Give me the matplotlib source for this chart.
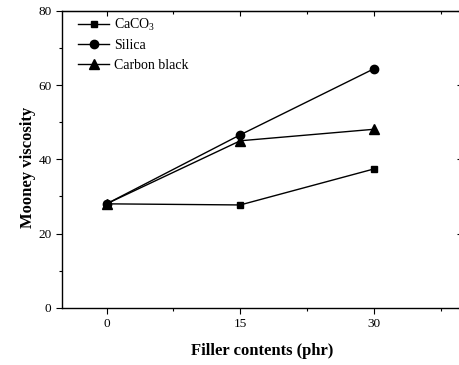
import numpy as np
import matplotlib
matplotlib.use('Agg')
import matplotlib.pyplot as plt
from matplotlib.ticker import MultipleLocator

plt.rcParams['font.family'] = ['Liberation Serif', 'DejaVu Serif']
plt.rcParams['mathtext.fontset'] = 'stix'
plt.rcParams['mathtext.default'] = 'regular'

# Data
filler = [0, 15, 30]
caco3 = [28.0, 27.7, 37.4]
silica = [28.0, 46.6, 64.4]
carbon_black = [28.0, 45.0, 48.1]

fig = plt.figure(figsize=(4.59, 3.65), dpi=100)
ax = fig.add_axes([0.1351, 0.157, 0.8736, 0.813])

ax.plot(filler, caco3, color='black', lw=1.0, marker='s', ms=5, label='CaCO$_3$')
ax.plot(filler, silica, color='black', lw=1.0, marker='o', ms=6, label='Silica')
ax.plot(filler, carbon_black, color='black', lw=1.0, marker='^', ms=6.5, label='Carbon black')

ax.set_xlim(-5, 40)
ax.set_ylim(0, 80)
ax.xaxis.set_major_locator(MultipleLocator(15))
ax.xaxis.set_minor_locator(MultipleLocator(7.5))
ax.yaxis.set_major_locator(MultipleLocator(20))
ax.yaxis.set_minor_locator(MultipleLocator(10))

ax.tick_params(which='both', direction='out', top=False, right=False, labelsize=9.5, width=0.8)
ax.tick_params(which='major', length=4)
ax.tick_params(which='minor', length=2.5)

# mirrored ticks pointing inward on top and right
ax_t = ax.secondary_xaxis('top')
ax_t.xaxis.set_major_locator(MultipleLocator(15))
ax_t.xaxis.set_minor_locator(MultipleLocator(7.5))
ax_t.tick_params(which='both', direction='in', labeltop=False, width=0.8)
ax_t.tick_params(which='major', length=3.5)
ax_t.tick_params(which='minor', length=2.5)
ax_r = ax.secondary_yaxis('right')
ax_r.yaxis.set_major_locator(MultipleLocator(20))
ax_r.yaxis.set_minor_locator(MultipleLocator(10))
ax_r.tick_params(which='both', direction='in', labelright=False, width=0.8)
ax_r.tick_params(which='major', length=4)
ax_r.tick_params(which='minor', length=2.5)

for s in ax.spines.values():
    s.set_linewidth(1.0)

ax.set_xlabel('Filler contents (phr)', fontsize=12, fontweight='bold', labelpad=9.5)
ax.set_ylabel('Mooney viscosity', fontsize=12, fontweight='bold')
ax.yaxis.set_label_coords(-0.066, 0.474)

ax.legend(loc='upper left', frameon=False, fontsize=10, handlelength=2.2,
          handletextpad=0.35, labelspacing=0.45, borderaxespad=0.2,
          bbox_to_anchor=(0.02, 1.008))

fig.savefig('out.png', dpi=100)
